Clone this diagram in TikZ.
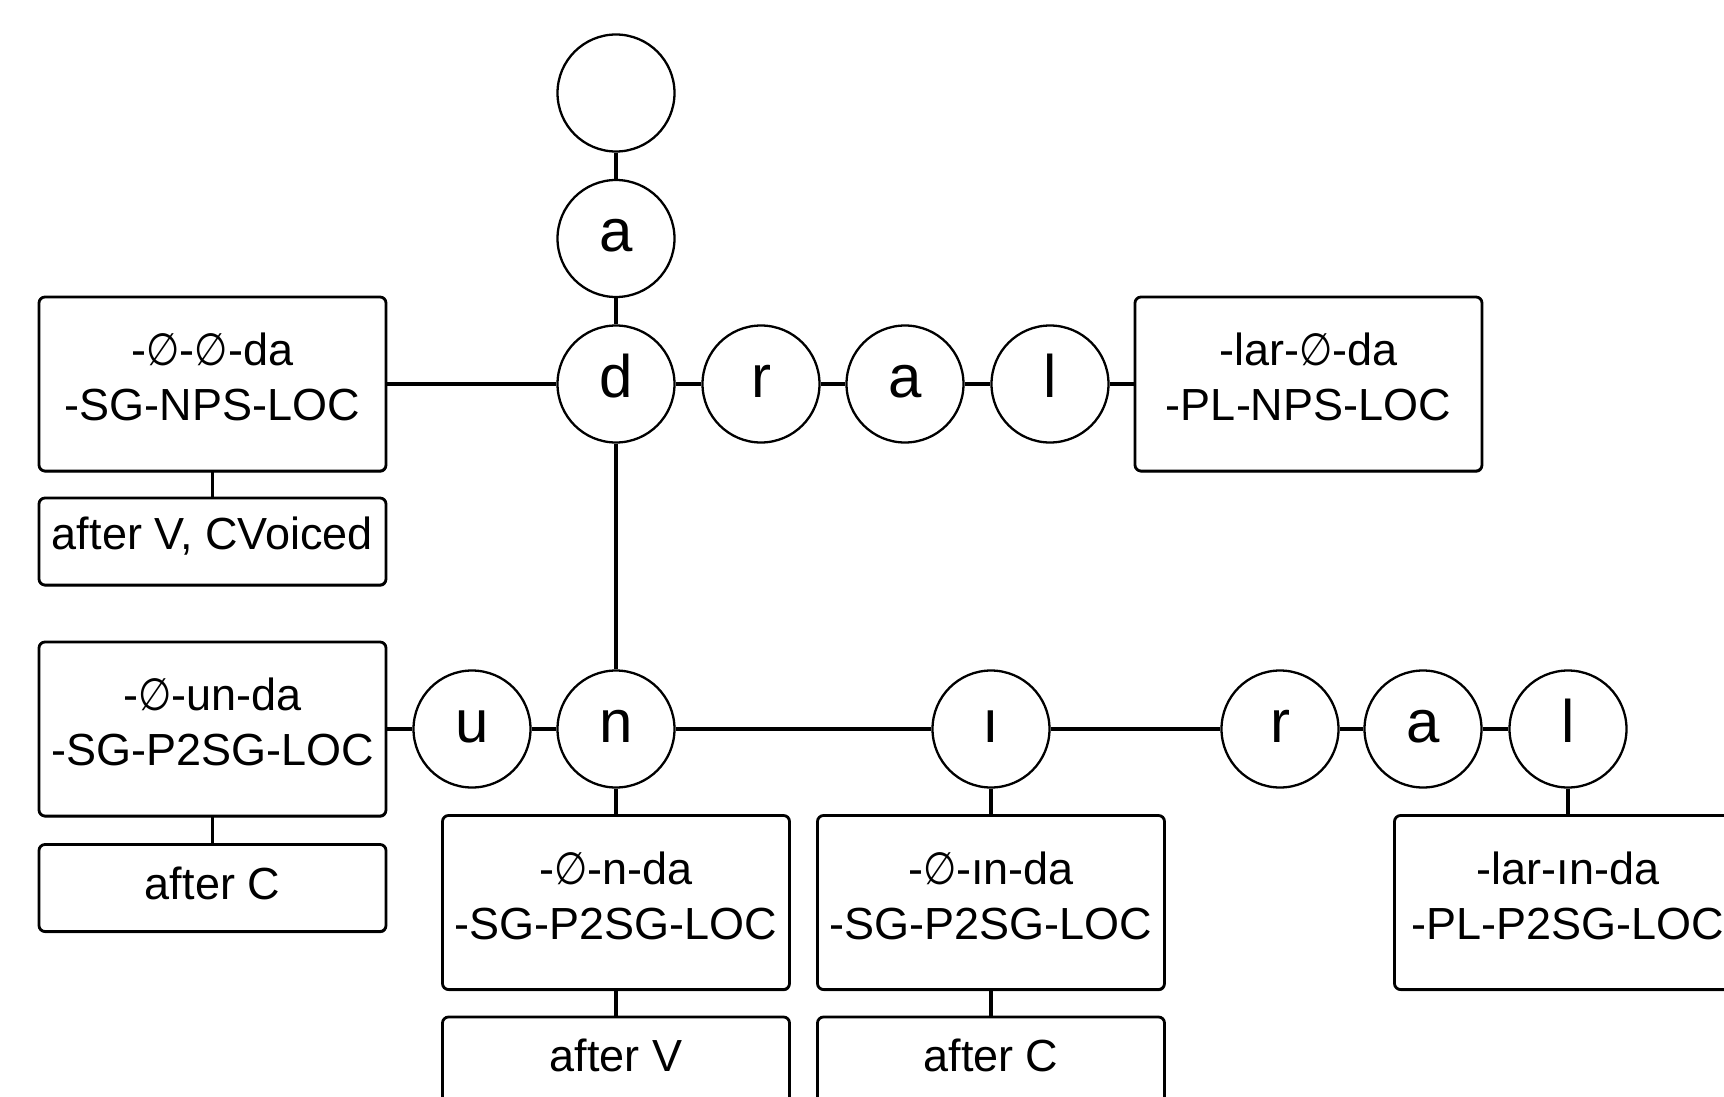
\documentclass[tikz,border=0pt]{standalone}
\usepackage{fontspec}
\usepackage{graphicx}
\setmainfont{Liberation Sans}
\newfontfamily\symfont{DejaVu Sans}
\newcommand\emp{\scalebox{0.85}[1]{\symfont ∅}}
\usetikzlibrary{shadows}
\newcommand\bigbx[4]{%
  \node[bigbox] (#1) at (#2,#3) {};
  \node[boxtext] (#1t) at ([yshift=7pt]#1.center) {#4};}
\newcommand\smallbx[4]{%
  \node[smallbox] (#1) at (#2,#3) {};
  \node[boxtext] (#1t) at ([yshift=5pt]#1.center) {#4};}
\begin{document}
\begin{tikzpicture}[x=1pt,y=-1pt,
  letter/.style={circle,draw,fill=white,line width=2.3pt,minimum size=117pt,inner sep=0pt,
    font=\fontsize{60}{60}\selectfont,text height=42pt,text depth=16pt},
  boxshape/.style={draw,fill=white,line width=2.8pt,rounded corners=6pt,minimum width=347pt,
    inner sep=0pt,drop shadow={shadow xshift=0.6pt,shadow yshift=-1.6pt,fill=black,opacity=0.8}},
  bigbox/.style={boxshape,minimum height=174pt},
  smallbox/.style={boxshape,minimum height=87pt},
  boxtext/.style={align=center,inner sep=0pt,font=\fontsize{45}{55}\selectfont},
  link/.style={line width=3.8pt}]
\useasboundingbox (0,0) rectangle (1724,1097);
\clip (0,0) rectangle (1724,1097);
% upper row
\node[letter] (top) at (616,93) {};
\node[letter] (a1) at (616,238.5) {a};
\node[letter] (d) at (616,384) {d};
\node[letter] (r1) at (761,384) {r};
\node[letter] (a2) at (905,384) {a};
\node[letter] (l1) at (1050,384) {l};
\bigbx{b1}{212.5}{384}{-\emp-\emp-da\\-SG-NPS-LOC}
\smallbx{b2}{212.5}{541.5}{after V, CVoiced}
\bigbx{b3}{1308.5}{384}{-lar-\emp-da\\-PL-NPS-LOC}
% lower row
\node[letter] (u) at (472,729) {u};
\node[letter] (n) at (616,729) {n};
\node[letter] (i) at (991,729) {ı};
\node[letter] (r2) at (1280,729) {r};
\node[letter] (a3) at (1423,729) {a};
\node[letter] (l2) at (1568,729) {l};
\bigbx{b4}{212.5}{729}{-\emp-un-da\\-SG-P2SG-LOC}
\smallbx{b5}{212.5}{888}{after C}
\bigbx{b6}{616}{902.5}{-\emp-n-da\\-SG-P2SG-LOC}
\smallbx{b7}{616}{1060.5}{after V}
\bigbx{b8}{991}{902.5}{-\emp-ın-da\\-SG-P2SG-LOC}
\smallbx{b9}{991}{1060.5}{after C}
\bigbx{b10}{1568}{902.5}{-lar-ın-da\\-PL-P2SG-LOC}
% connectors
\draw[link] (top) -- (a1);
\draw[link] (a1) -- (d);
\draw[link] (b1) -- (d);
\draw[link] (d) -- (r1);
\draw[link] (r1) -- (a2);
\draw[link] (a2) -- (l1);
\draw[link] (l1) -- (b3);
\draw[link] (b1) -- (b2);
\draw[link] (d) -- (n);
\draw[link] (b4) -- (u);
\draw[link] (u) -- (n);
\draw[link] (n) -- (i);
\draw[link] (i) -- (r2);
\draw[link] (r2) -- (a3);
\draw[link] (a3) -- (l2);
\draw[link] (b4) -- (b5);
\draw[link] (n) -- (b6);
\draw[link] (b6) -- (b7);
\draw[link] (i) -- (b8);
\draw[link] (b8) -- (b9);
\draw[link] (l2) -- (b10);
\end{tikzpicture}
\end{document}
